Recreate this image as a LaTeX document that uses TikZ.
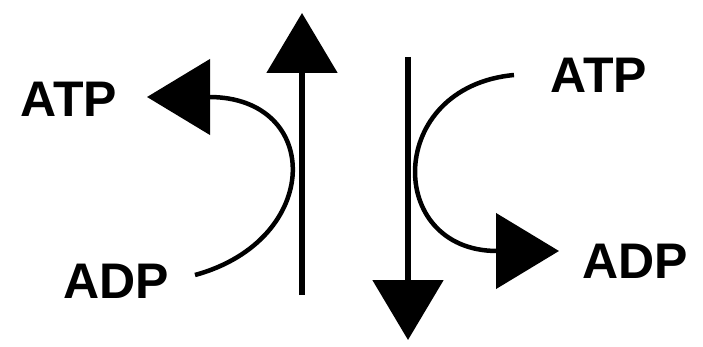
\documentclass[tikz,border=0pt]{standalone}
\usepackage{fontspec}
\setmainfont{Liberation Sans}
\usetikzlibrary{arrows.meta}
\begin{document}
\begin{tikzpicture}[x=1pt,y=-1pt,
  lbl/.style={inner sep=0pt,font=\fontsize{50}{50}\selectfont\bfseries},
  vline/.style={line width=5.5pt,-{Triangle[length=60pt,width=70pt]}},
  cline/.style={line width=4.5pt,-{Triangle[length=63pt,width=75pt]}}]
\useasboundingbox (0,0) rectangle (703,347);
% labels
\node[lbl] (atpL) at (69,99) {ATP};
\node[lbl] (adpL) at (116,281) {ADP};
\node[lbl] (atpR) at (599,75) {ATP};
\node[lbl] (adpR) at (635,261) {ADP};
% endpoints
\coordinate (upB) at (302,295);
\coordinate (upT) at (302,13);
\coordinate (dnT) at (408,57);
\coordinate (dnB) at (408,340);
\coordinate (lS) at (195,275);
\coordinate (lE) at (147,97);
\coordinate (rS) at (514,75);
\coordinate (rE) at (559,251);
% vertical arrows
\draw[vline] (upB) -- (upT);
\draw[vline] (dnT) -- (dnB);
% curved arrows
\draw[cline] (lS) .. controls (323,240) and (323,97) .. (lE);
\draw[cline] (rS) .. controls (385,87) and (385,251) .. (rE);
\end{tikzpicture}
\end{document}
